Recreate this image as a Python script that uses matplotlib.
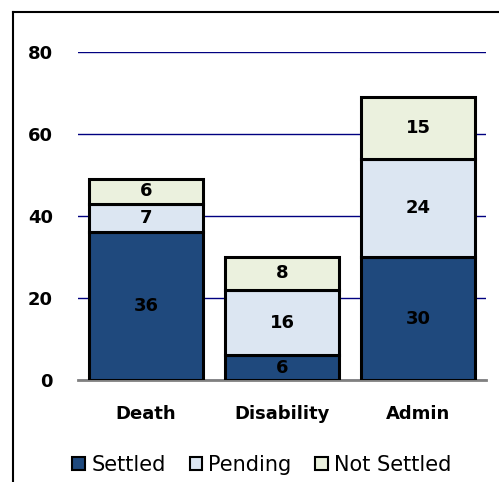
import numpy as np
import matplotlib.pyplot as plt
from matplotlib.lines import Line2D
from matplotlib.patches import Patch

# Claims by type
categories = ['Death', 'Disability', 'Admin']
settled = [36, 6, 30]
pending = [7, 16, 24]
not_settled = [6, 8, 15]

series = [('Settled', settled, '#1F497D'),
          ('Pending', pending, '#DCE6F2'),
          ('Not Settled', not_settled, '#EBF1DE')]

plt.rcParams['font.family'] = ['Verdana', 'DejaVu Sans']

fig = plt.figure(figsize=(4.99, 4.82), dpi=100)
ax = fig.add_axes([78/499, 1 - 380/482, (486 - 78)/499, (380 - 52)/482])

x = np.arange(len(categories))
bottom = np.zeros(len(categories))
handles = []
for name, vals, color in series:
    vals = np.array(vals)
    ax.bar(x, vals, 0.84, bottom=bottom, color=color, edgecolor='black',
           linewidth=2.2, zorder=3)
    for xi, b, v in zip(x, bottom, vals):
        ax.text(xi, b + v / 2, str(v), ha='center', va='center',
                fontsize=13, fontweight='bold', color='black', zorder=4)
    bottom += vals
    handles.append(Patch(facecolor=color, edgecolor='black', linewidth=1.5))

ax.set_xlim(-0.5, 2.5)
ax.set_ylim(0, 80)
ax.set_yticks([0, 20, 40, 60, 80])
ax.yaxis.grid(True, color='#000080', linewidth=1, zorder=0)
ax.set_xticks(x)
ax.set_xticklabels(categories, fontsize=13, fontweight='bold')
for lbl in ax.get_yticklabels():
    lbl.set_fontsize(13)
    lbl.set_fontweight('bold')
ax.tick_params(axis='y', length=0, pad=18)
ax.tick_params(axis='x', length=0, pad=18)
for s in ['top', 'right', 'left']:
    ax.spines[s].set_visible(False)
ax.spines['bottom'].set_color('#808080')
ax.spines['bottom'].set_linewidth(2)
ax.spines['bottom'].set_zorder(2)

fig.legend(handles, [s[0] for s in series], loc='center',
           bbox_to_anchor=(262/499, 1 - 465/482), ncol=3, frameon=False,
           fontsize=15, handlelength=0.6, handleheight=0.6,
           handletextpad=0.3, columnspacing=1.15)

# outer frame
fig.add_artist(Line2D([13/499, 13/499], [0, 1 - 12/482], color='black',
                      linewidth=1.5, transform=fig.transFigure))
fig.add_artist(Line2D([13/499, 1], [1 - 12/482, 1 - 12/482], color='black',
                      linewidth=1.5, transform=fig.transFigure))

fig.savefig('out.png', dpi=100)
